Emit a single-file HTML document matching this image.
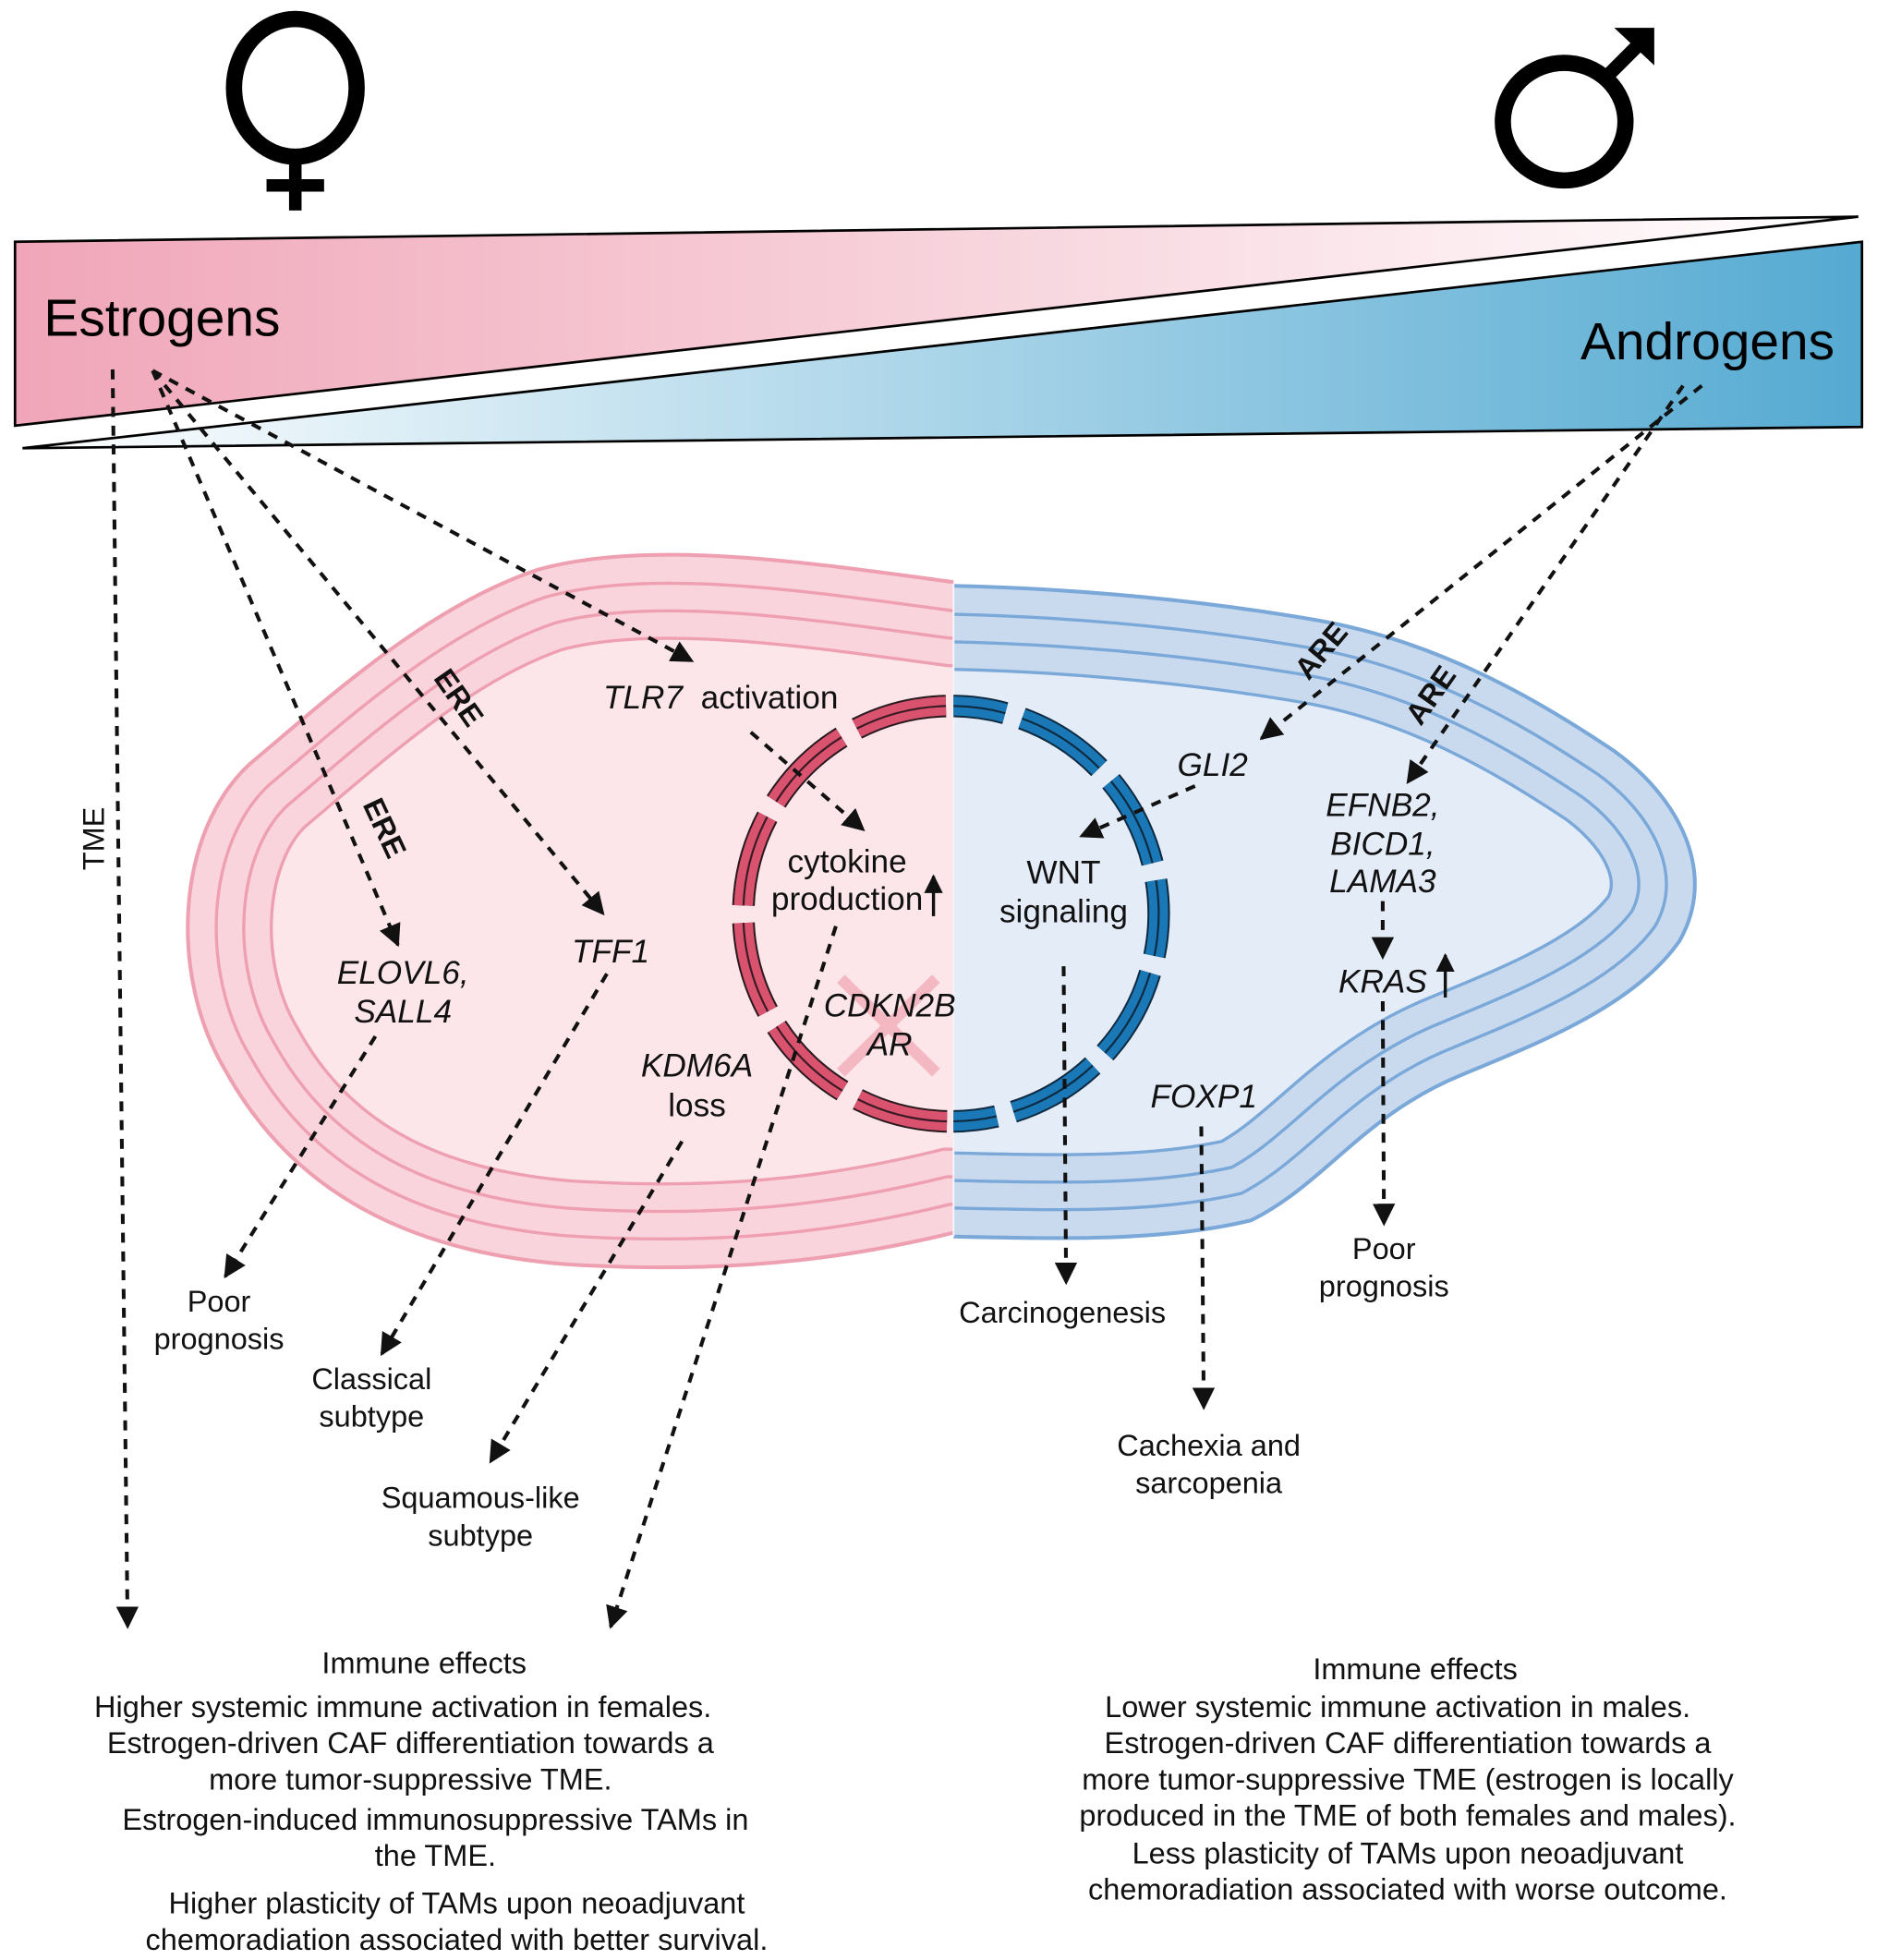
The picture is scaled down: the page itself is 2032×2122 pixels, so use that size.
<!DOCTYPE html>
<html><head><meta charset="utf-8"><style>html,body{margin:0;padding:0;background:#fff}svg{display:block}</style></head>
<body>
<svg width="2032" height="2122" viewBox="0 0 1500 1566" xmlns="http://www.w3.org/2000/svg" font-family="Liberation Sans, sans-serif">
<defs>
<linearGradient id="gp" x1="0" x2="1"><stop offset="0" stop-color="#f0a6b8"/><stop offset="1" stop-color="#fff"/></linearGradient>
<linearGradient id="gb" x1="0" x2="1"><stop offset="0" stop-color="#fff"/><stop offset="1" stop-color="#55aad2"/></linearGradient>
<marker id="ah" viewBox="0 0 10 10" refX="9" refY="5" markerWidth="6" markerHeight="6" markerUnits="strokeWidth" orient="auto"><path d="M0,0 L10,5 L0,10 z" fill="#111"/></marker>
<path id="pshape" d="M762 465 C650 450 520 430 430 455 C340 485 260 560 200 610 C140 665 135 780 180 855 C235 955 330 1000 450 1010 C600 1020 700 1000 762 985 L1200 985 L1200 465 Z"/>
<path id="bshape" d="M762 468 C850 470 950 478 1050 495 C1150 512 1230 560 1290 600 C1345 640 1372 700 1342 752 C1305 805 1225 835 1170 858 C1090 890 1060 945 1000 975 C930 992 850 990 762 988 L300 988 L300 468 Z"/>
<clipPath id="cp"><use href="#pshape"/></clipPath>
<clipPath id="cb"><use href="#bshape"/></clipPath>
<clipPath id="hl"><rect x="0" y="0" width="762" height="1566"/></clipPath>
<clipPath id="hr"><rect x="762" y="0" width="800" height="1566"/></clipPath>
</defs>

<ellipse cx="236" cy="70" rx="49" ry="55" fill="none" stroke="#000" stroke-width="13"/>
<line x1="236" y1="125" x2="236" y2="168" stroke="#000" stroke-width="10"/>
<line x1="213" y1="148" x2="259" y2="148" stroke="#000" stroke-width="10"/>
<ellipse cx="1250" cy="97" rx="49" ry="47" fill="none" stroke="#000" stroke-width="13"/>
<line x1="1283" y1="62" x2="1312" y2="33" stroke="#000" stroke-width="11"/>
<path d="M1290 22 L1322 22 L1322 52 Z" fill="#000"/>

<polygon points="12,193 1485,173 12,340" fill="url(#gp)" stroke="#000" stroke-width="2"/>
<polygon points="18,358 1488,193 1488,341" fill="url(#gb)" stroke="#000" stroke-width="2"/>
<text x="35" y="268" font-size="42">Estrogens</text>
<text x="1263" y="287" font-size="42">Androgens</text>

<g clip-path="url(#hl)">
<use href="#pshape" fill="#fce6ea"/>
<g clip-path="url(#cp)" fill="none">
<use href="#pshape" stroke="#ee9fb0" stroke-width="136"/>
<use href="#pshape" stroke="#f9d4dc" stroke-width="131"/>
<use href="#pshape" stroke="#ee9fb0" stroke-width="92"/>
<use href="#pshape" stroke="#f9d4dc" stroke-width="87"/>
<use href="#pshape" stroke="#ee9fb0" stroke-width="48"/>
<use href="#pshape" stroke="#f9d4dc" stroke-width="43"/>
</g>
<use href="#pshape" fill="none" stroke="#ee9fb0" stroke-width="3"/>
</g>
<g clip-path="url(#hr)">
<use href="#bshape" fill="#e4ecf8"/>
<g clip-path="url(#cb)" fill="none">
<use href="#bshape" stroke="#7aa8d8" stroke-width="136"/>
<use href="#bshape" stroke="#c9daef" stroke-width="131"/>
<use href="#bshape" stroke="#7aa8d8" stroke-width="92"/>
<use href="#bshape" stroke="#c9daef" stroke-width="87"/>
<use href="#bshape" stroke="#7aa8d8" stroke-width="48"/>
<use href="#bshape" stroke="#c9daef" stroke-width="43"/>
</g>
<use href="#bshape" fill="none" stroke="#7aa8d8" stroke-width="3"/>
</g>
<line x1="762" y1="466" x2="762" y2="988" stroke="#f4f4f8" stroke-width="1.5"/>

<line x1="672" y1="782" x2="748" y2="857" stroke="#f4b8c3" stroke-width="9"/>
<line x1="748" y1="782" x2="672" y2="857" stroke="#f4b8c3" stroke-width="9"/>

<g fill="none">
<g clip-path="url(#hl)" stroke-dasharray="74 14">
<circle cx="760" cy="730" r="166" stroke="#2a1a20" stroke-width="18"/>
<circle cx="760" cy="730" r="166" stroke="#d9536f" stroke-width="15"/>
<circle cx="760" cy="730" r="166" stroke="#3a1a24" stroke-width="1.6"/>
</g>
<g clip-path="url(#hr)" stroke-dasharray="74 14" stroke-dashoffset="40">
<circle cx="760" cy="730" r="166" stroke="#0e2a40" stroke-width="18"/>
<circle cx="760" cy="730" r="166" stroke="#1a78b6" stroke-width="15"/>
<circle cx="760" cy="730" r="166" stroke="#0e2a40" stroke-width="1.6"/>
</g>
</g>

<g stroke="#111" stroke-width="3" stroke-dasharray="8 7" fill="none" marker-end="url(#ah)">
<line x1="90" y1="295" x2="102" y2="1300"/>
<line x1="122" y1="296" x2="318" y2="755"/>
<line x1="122" y1="296" x2="482" y2="730"/>
<line x1="122" y1="296" x2="553" y2="528"/>
<line x1="600" y1="585" x2="690" y2="663"/>
<line x1="668" y1="740" x2="488" y2="1300"/>
<line x1="300" y1="828" x2="180" y2="1020"/>
<line x1="485" y1="778" x2="305" y2="1082"/>
<line x1="545" y1="912" x2="392" y2="1168"/>
<line x1="1360" y1="308" x2="1008" y2="590"/>
<line x1="1345" y1="308" x2="1125" y2="625"/>
<line x1="955" y1="628" x2="864" y2="668"/>
<line x1="850" y1="772" x2="852" y2="1025"/>
<line x1="960" y1="900" x2="962" y2="1125"/>
<line x1="1105" y1="720" x2="1105" y2="765"/>
<line x1="1105" y1="800" x2="1106" y2="978"/>
</g>
<g stroke="#111" stroke-width="2.5" marker-end="url(#ah)">
<line x1="746" y1="732" x2="746" y2="700"/>
<line x1="1155" y1="797" x2="1155" y2="763"/>
</g>

<g font-size="26" fill="#111">
<text x="75" y="670" font-size="24" transform="rotate(-90 75 670)" text-anchor="middle" dy="8">TME</text>
<text x="300" y="665" font-size="24" font-weight="bold" transform="rotate(65 300 665)" text-anchor="middle">ERE</text>
<text x="360" y="562" font-size="24" font-weight="bold" transform="rotate(55 360 562)" text-anchor="middle">ERE</text>
<text x="1062" y="525" font-size="24" font-weight="bold" transform="rotate(-50 1062 525)" text-anchor="middle">ARE</text>
<text x="1150" y="560" font-size="24" font-weight="bold" transform="rotate(-55 1150 560)" text-anchor="middle">ARE</text>
<text x="482" y="566" xml:space="preserve"><tspan font-style="italic">TLR7</tspan>  activation</text>
<g text-anchor="middle">
<text x="677" y="697">cytokine</text><text x="677" y="727">production</text>
<text x="850" y="706">WNT</text><text x="850" y="737">signaling</text>
<g font-style="italic">
<text x="969" y="620">GLI2</text>
<text x="1105" y="652">EFNB2,</text><text x="1105" y="683">BICD1,</text><text x="1105" y="713">LAMA3</text>
<text x="1105" y="793">KRAS</text>
<text x="322" y="786">ELOVL6,</text><text x="322" y="817">SALL4</text>
<text x="488" y="769">TFF1</text>
<text x="711" y="812">CDKN2B</text><text x="711" y="843">AR</text>
<text x="557" y="860">KDM6A</text>
<text x="962" y="885">FOXP1</text>
</g>
<text x="557" y="892">loss</text>
</g>
<g text-anchor="middle" font-size="24">
<text x="175" y="1048">Poor</text><text x="175" y="1078">prognosis</text>
<text x="297" y="1110">Classical</text><text x="297" y="1140">subtype</text>
<text x="384" y="1205">Squamous-like</text><text x="384" y="1235">subtype</text>
<text x="849" y="1057">Carcinogenesis</text>
<text x="1106" y="1006">Poor</text><text x="1106" y="1036">prognosis</text>
<text x="966" y="1163">Cachexia and</text><text x="966" y="1193">sarcopenia</text>
</g>
<g text-anchor="middle" font-size="24">
<text x="339" y="1337">Immune effects</text>
<text x="322" y="1372">Higher systemic immune activation in females.</text>
<text x="328" y="1401">Estrogen-driven CAF differentiation towards a</text>
<text x="328" y="1430">more tumor-suppressive TME.</text>
<text x="348" y="1462">Estrogen-induced immunosuppressive TAMs in</text>
<text x="348" y="1491">the TME.</text>
<text x="365" y="1529">Higher plasticity of TAMs upon neoadjuvant</text>
<text x="365" y="1558">chemoradiation associated with better survival.</text>
<text x="1131" y="1342">Immune effects</text>
<text x="1117" y="1372">Lower systemic immune activation in males.</text>
<text x="1125" y="1401">Estrogen-driven CAF differentiation towards a</text>
<text x="1125" y="1430">more tumor-suppressive TME (estrogen is locally</text>
<text x="1125" y="1459">produced in the TME of both females and males).</text>
<text x="1125" y="1489">Less plasticity of TAMs upon neoadjuvant</text>
<text x="1125" y="1518">chemoradiation associated with worse outcome.</text>
</g>
</g>
</svg>
</body></html>
